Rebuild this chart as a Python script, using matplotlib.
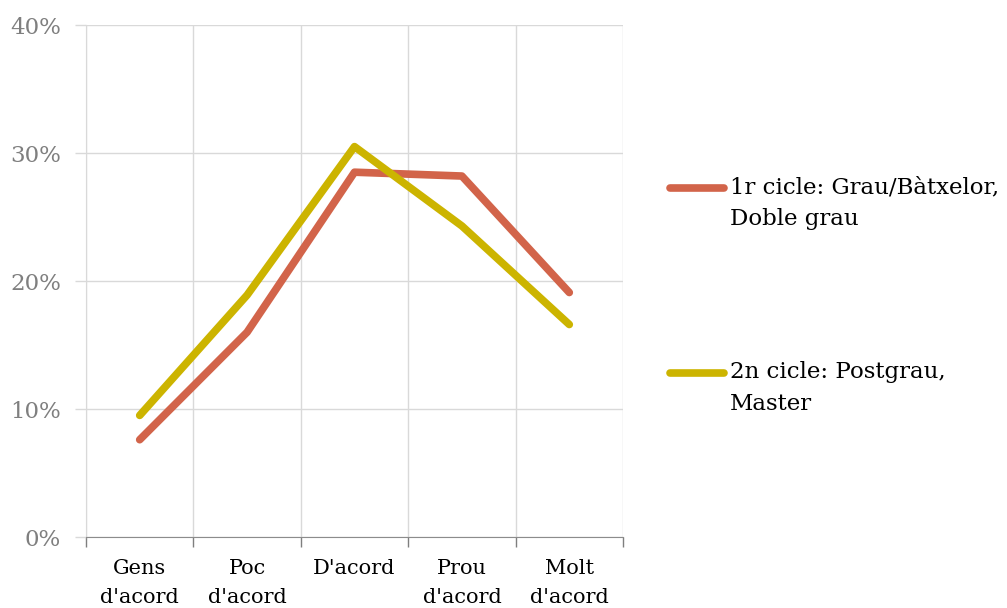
import matplotlib
matplotlib.use("Agg")
import matplotlib.pyplot as plt
from matplotlib.lines import Line2D
import numpy as np

categories = ["Gens\nd'acord", "Poc\nd'acord", "D'acord", "Prou\nd'acord", "Molt\nd'acord"]
series_names = ["1r cicle: Grau/Bàtxelor,\nDoble grau", "2n cicle: Postgrau,\nMaster"]
cicle1 = [7.6, 16.0, 28.5, 28.2, 19.1]
cicle2 = [9.5, 18.9, 30.5, 24.3, 16.6]
yticks = [0, 10, 20, 30, 40]
ytick_labels = ["0%", "10%", "20%", "30%", "40%"]
colors = ["#D2644A", "#CCB400"]

plt.rcParams['font.family'] = ['DejaVu Serif']

fig = plt.figure(figsize=(10.07, 6.08), dpi=100)
ax = fig.add_axes([86/1007, 1-537/608, (623-86)/1007, (537-25)/608])

x = np.arange(len(categories))
for vals, c in zip([cicle1, cicle2], colors):
    ax.plot(x, vals, color=c, lw=5.5, solid_capstyle='round', solid_joinstyle='round', zorder=3)

ax.set_xlim(-0.5, len(categories) - 0.5)
ax.set_ylim(0, 40)
ax.set_yticks(yticks)
ax.set_yticklabels(ytick_labels, color="#7f7f7f", fontsize=16.5)
ax.set_xticks(x)
ax.set_xticklabels(categories, fontsize=15, color="#000000", linespacing=1.65)
ax.set_xticks(np.arange(len(categories) + 1) - 0.5, minor=True)
ax.tick_params(axis='x', which='major', length=0, pad=16)
ax.tick_params(axis='x', which='minor', length=7, color="#7f7f7f", width=1, direction='out')
ax.tick_params(axis='y', length=8, color="#d9d9d9", width=1, pad=10)

ax.grid(True, axis='y', color="#d9d9d9", lw=1)
ax.grid(True, axis='x', which='minor', color="#d9d9d9", lw=1)
for s in ['top', 'right']:
    ax.spines[s].set_visible(False)
ax.spines['left'].set_color("#d9d9d9")
ax.spines['bottom'].set_color("#8c8c8c")

# legend drawn manually
W, H = 1007, 608
legend_y = [188, 373]
for name, c, yy in zip(series_names, colors, legend_y):
    fig.add_artist(Line2D([670/W, 724/W], [1-yy/H, 1-yy/H], color=c, lw=5.5,
                          solid_capstyle='round', transform=fig.transFigure))
    fig.text(730/W, 1-(yy-12)/H, name, fontsize=16.5, va='top', ha='left',
             linespacing=1.6, color="#000000")

fig.savefig("out.png", dpi=100)
